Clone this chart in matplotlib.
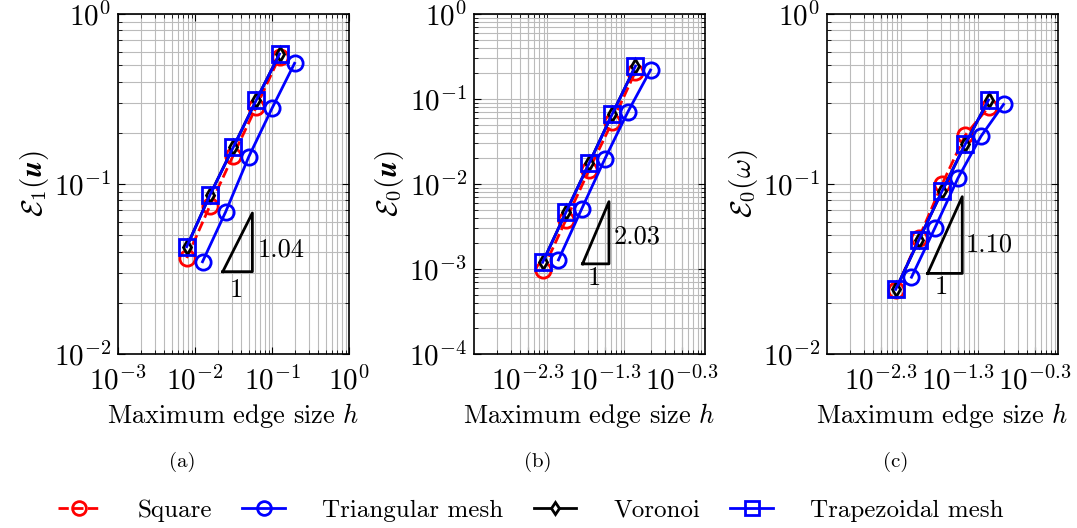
import matplotlib
matplotlib.use("Agg")
import matplotlib.pyplot as plt
import numpy as np

plt.rcParams['font.family'] = 'cmr10'
plt.rcParams['mathtext.fontset'] = 'cm'
plt.rcParams['axes.formatter.use_mathtext'] = True

# mesh sizes
h_quad = [0.0078, 0.0156, 0.03125, 0.0625, 0.125]
h_tri = [0.0125, 0.025, 0.05, 0.1, 0.196]

# (a) E1(u)
a_square = [0.0367, 0.0745, 0.147, 0.285, 0.561]
a_tri = [0.0349, 0.0687, 0.145, 0.279, 0.513]
a_voronoi = [0.0428, 0.0861, 0.164, 0.312, 0.582]
a_trap = [0.0428, 0.0861, 0.164, 0.312, 0.582]

# (b) E0(u)
b_square = [0.00097, 0.00377, 0.0146, 0.054, 0.21]
b_tri = [0.00128, 0.00508, 0.0197, 0.071, 0.219]
b_voronoi = [0.0012, 0.00464, 0.0175, 0.0667, 0.244]
b_trap = [0.0012, 0.00464, 0.0175, 0.0667, 0.244]

# (c) E0(omega)
c_square = [0.0238, 0.0481, 0.1, 0.194, 0.283]
c_tri = [0.0283, 0.0548, 0.108, 0.191, 0.294]
c_voronoi = [0.024, 0.0469, 0.091, 0.172, 0.312]
c_trap = [0.024, 0.0469, 0.091, 0.172, 0.312]

# slope triangles: (x0, x1), (y0, y1), label, label positions
tri_x = [(0.0229, 0.0555), (0.0257, 0.0566), (0.0203, 0.057)]
tri_y = [(0.0305, 0.0675), (0.00115, 0.0062), (0.0298, 0.0842)]
slopes = ['1.04', '2.03', '1.10']
slope_pos = [(0.0658, 0.0409), (0.0643, 0.00238), (0.0623, 0.0438)]
one_pos = [(0.0348, 0.0238), (0.0366, 0.00078), (0.0304, 0.0248)]

ylabels = [r'$\mathcal{E}_1(\boldsymbol{u})$', r'$\mathcal{E}_0(\boldsymbol{u})$',
           r'$\mathcal{E}_0(\omega)$']
ylims = [(1e-2, 1), (1e-4, 1), (1e-2, 1)]
captions = ['(a)', '(b)', '(c)']
cap_x = [182, 538, 896]
lefts = [0.1096, 0.4401, 0.7679]

data = [(a_square, a_tri, a_voronoi, a_trap),
        (b_square, b_tri, b_voronoi, b_trap),
        (c_square, c_tri, c_voronoi, c_trap)]

fig = plt.figure(figsize=(10.77, 5.28), dpi=100)

for i in range(3):
    ax = fig.add_axes([lefts[i], 0.3295, 0.2145, 0.644])
    sq, tr, vo, tz = data[i]
    l1, = ax.plot(h_quad, sq, color='red', ls='--', lw=2, marker='o', ms=11,
                  mfc='none', mew=2, label='Square')
    l2, = ax.plot(h_tri, tr, color='blue', lw=2, marker='o', ms=11,
                  mfc='none', mew=2, label='Triangular mesh')
    l3, = ax.plot(h_quad, vo, color='black', lw=2, marker='d', ms=7,
                  mfc='white', mew=2, label='Voronoi')
    l4, = ax.plot(h_quad, tz, color='blue', lw=2, marker='s', ms=11,
                  mfc='none', mew=2, label='Trapezoidal mesh')
    ax.set_xscale('log')
    ax.set_yscale('log')
    ax.set_xlim(1e-3, 1)
    ax.set_ylim(*ylims[i])
    if i == 0:
        ax.set_xticks([1e-3, 1e-2, 1e-1, 1])
    else:
        xt = [10**-2.3, 10**-1.3, 10**-0.3]
        ax.set_xticks(xt)
        ax.set_xticklabels([r'$10^{-2.3}$', r'$10^{-1.3}$', r'$10^{-0.3}$'])
    ax.grid(True, which='both', color='#bbbbbb', lw=0.8)
    ax.set_axisbelow(True)
    ax.tick_params(which='both', direction='in', top=True, right=True,
                   labelsize=21)
    ax.tick_params(axis='x', which='major', pad=9)
    ax.tick_params(axis='y', which='major', pad=5)
    ax.tick_params(which='major', length=5)
    ax.tick_params(which='minor', length=3)
    ax.set_ylabel(ylabels[i], fontsize=21, labelpad=2)
    ax.set_xlabel(r'Maximum edge size $h$', fontsize=19, labelpad=4)

    x0, x1 = tri_x[i]
    y0, y1 = tri_y[i]
    ax.plot([x0, x1, x1, x0], [y0, y0, y1, y0], color='black', lw=2)
    ax.text(slope_pos[i][0], slope_pos[i][1], slopes[i], fontsize=19,
            ha='left', va='center')
    ax.text(one_pos[i][0], one_pos[i][1], '1', fontsize=19,
            ha='center', va='center')
    for s in ax.spines.values():
        s.set_linewidth(1.2)
    fig.text(cap_x[i] / 1077, 0.125, captions[i], fontsize=15,
             ha='center', va='center')

fig.legend(handles=[l1, l2, l3, l4], loc='center', bbox_to_anchor=(0.493, 0.033),
           ncol=4, frameon=False, fontsize=18, handlelength=1.7,
           columnspacing=1.2, handletextpad=1.5, markerscale=0.9)

fig.savefig('out.png', dpi=100)
